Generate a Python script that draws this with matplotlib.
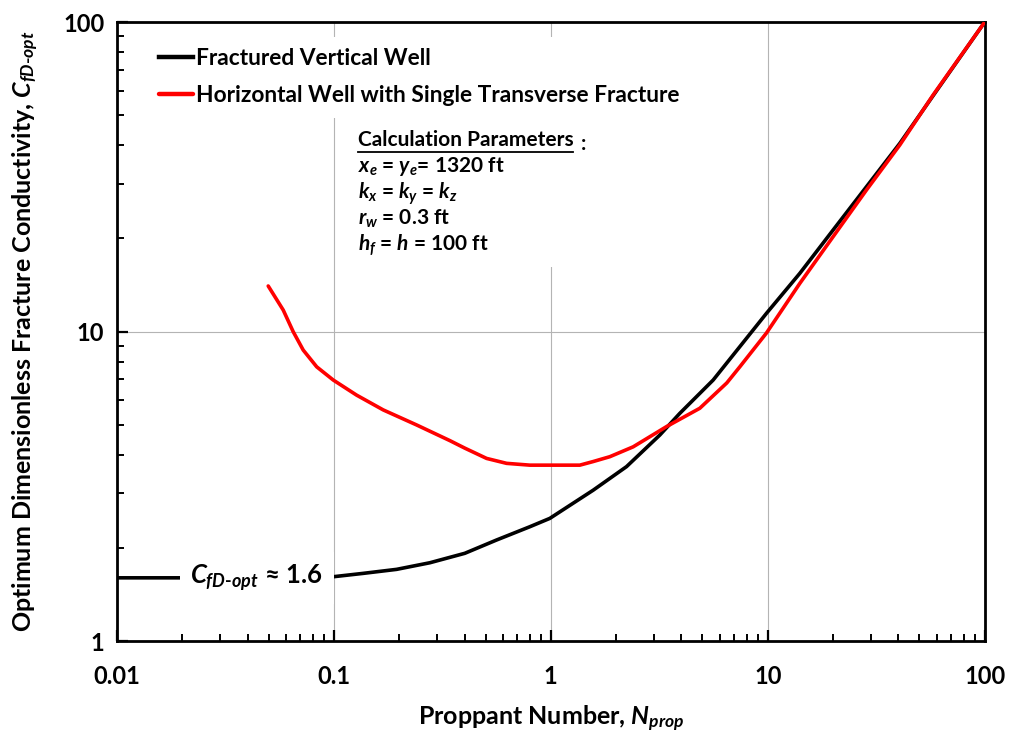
import numpy as np
import matplotlib.pyplot as plt
from matplotlib.lines import Line2D
from matplotlib.patches import Rectangle
from matplotlib.ticker import LogLocator, FixedLocator, NullFormatter

plt.rcParams['font.family'] = ['Lato', 'DejaVu Sans']
plt.rcParams['font.weight'] = 'bold'
plt.rcParams['axes.labelweight'] = 'bold'
plt.rcParams['mathtext.fontset'] = 'custom'
plt.rcParams['mathtext.rm'] = 'Lato:bold'
plt.rcParams['mathtext.it'] = 'Lato:italic:bold'
plt.rcParams['mathtext.bf'] = 'Lato:bold'

# fractured vertical well, optimum CfD vs proppant number
n_prop_vert = [0.01, 0.02, 0.05, 0.0993, 0.1365, 0.1945, 0.277, 0.401, 0.562,
               0.80, 0.989, 1.566, 2.233, 3.18, 3.93, 5.60, 9.86, 14.05,
               20.0, 28.5, 40.6, 57.8, 100.0]
cfd_vert = [1.6, 1.6, 1.6, 1.613, 1.654, 1.704, 1.79, 1.92, 2.12,
            2.34, 2.49, 3.07, 3.66, 4.63, 5.44, 6.97, 11.45, 15.42,
            21.28, 29.37, 40.55, 57.8, 100.0]

# horizontal well with a single transverse fracture
n_prop_horz = [0.0498, 0.0584, 0.0649, 0.0722, 0.0833, 0.0993, 0.1272, 0.1688,
               0.2405, 0.3425, 0.401, 0.5056, 0.625, 0.80, 0.989, 1.36, 1.566,
               1.87, 2.395, 3.415, 4.86, 6.47, 7.43, 9.86, 14.05,
               20.0, 28.5, 40.6, 57.8, 100.0]
cfd_horz = [14.03, 11.73, 9.99, 8.71, 7.69, 6.97, 6.23, 5.58,
            4.99, 4.44, 4.20, 3.89, 3.75, 3.70, 3.70, 3.70, 3.80,
            3.94, 4.24, 4.93, 5.65, 6.82, 7.69, 9.89, 14.31,
            20.25, 28.66, 40.06, 58.1, 100.0]

x_ticks = [0.01, 0.1, 1, 10, 100]
x_ticklabels = ['0.01', '0.1', '1', '10', '100']
y_ticks = [1, 10, 100]
y_ticklabels = ['1', '10', '100']

param_lines = [r'$x_e$ = $y_e$= 1320 ft',
               r'$k_x$ = $k_y$ = $k_z$',
               r'$r_w$ = 0.3 ft',
               r'$h_f$ = $h$ = 100 ft']

fig = plt.figure(figsize=(10.1, 7.34), dpi=100)
ax = fig.add_axes([0.1158, 0.1267, 0.8592, 0.8433])

ax.set_xscale('log')
ax.set_yscale('log')
ax.set_xlim(0.01, 100)
ax.set_ylim(1, 100)

ax.plot(n_prop_vert, cfd_vert, color='black', lw=2.6, zorder=3,
        label='Fractured Vertical Well', solid_joinstyle='round')
ax.plot(n_prop_horz, cfd_horz, color='#ff0000', lw=2.6, zorder=4,
        label='Horizontal Well with Single Transverse Fracture',
        solid_joinstyle='round', solid_capstyle='round')

ax.xaxis.set_major_locator(FixedLocator(x_ticks))
ax.set_xticklabels(x_ticklabels)
ax.yaxis.set_major_locator(FixedLocator(y_ticks))
ax.set_yticklabels(y_ticklabels)
ax.xaxis.set_minor_locator(LogLocator(base=10, subs=np.arange(2, 10)))
ax.yaxis.set_minor_locator(LogLocator(base=10, subs=np.arange(2, 10)))
ax.xaxis.set_minor_formatter(NullFormatter())
ax.yaxis.set_minor_formatter(NullFormatter())

ax.tick_params(which='major', direction='in', length=8, width=1.6,
               labelsize=17)
ax.tick_params(which='minor', direction='in', length=5, width=1.4)
ax.tick_params(axis='x', which='major', pad=17)
ax.tick_params(axis='y', which='major', pad=9)
for s in ax.spines.values():
    s.set_linewidth(2)

ax.grid(which='major', color='#b4b4b4', lw=0.8, zorder=0)

ax.set_xlabel(r'Proppant Number, $N_{prop}$', fontsize=18, labelpad=12)
ax.set_ylabel(r'Optimum Dimensionless Fracture Conductivity, $C_{fD\text{-}opt}$',
              fontsize=18, labelpad=16)

leg = ax.legend(loc='upper left', bbox_to_anchor=(0.022, 0.995), fontsize=16.4,
                frameon=True, framealpha=1, edgecolor='none', facecolor='white',
                handlelength=1.5, handletextpad=0.12, labelspacing=0.72,
                borderpad=0.5)
for h in leg.get_lines():
    h.set_linewidth(3.2)
leg.set_zorder(5)

# parameter box
ax.add_patch(Rectangle((0.271, 0.604), 0.28, 0.242, transform=ax.transAxes,
                       fc='white', ec='none', zorder=2))
px, py = 0.2775, 0.8
tbox = ax.text(px, py, 'Calculation Parameters', transform=ax.transAxes,
               fontsize=15, ha='left', va='baseline', zorder=6)
for i, line in enumerate(param_lines):
    ax.text(px, py - 0.0425 * (i + 1), line, transform=ax.transAxes,
            fontsize=15, ha='left', va='baseline', zorder=6)

fig.canvas.draw()
bb = tbox.get_window_extent().transformed(fig.transFigure.inverted())
fig.add_artist(Line2D([bb.x0, bb.x1], [bb.y0 - 0.0035, bb.y0 - 0.0035],
                      color='black', lw=1.3, transform=fig.transFigure))
ax.text(bb.x1 + 0.007, bb.y0, ':', transform=fig.transFigure, fontsize=15,
        ha='left', va='baseline', zorder=6)

ax.text(0.0218, 1.6, r'$C_{fD\text{-}opt}$ ≈ 1.6', fontsize=18.5, ha='left',
        va='center', zorder=6,
        bbox=dict(boxstyle='square,pad=0.42', fc='white', ec='none'))

fig.savefig('out.png', dpi=100)
